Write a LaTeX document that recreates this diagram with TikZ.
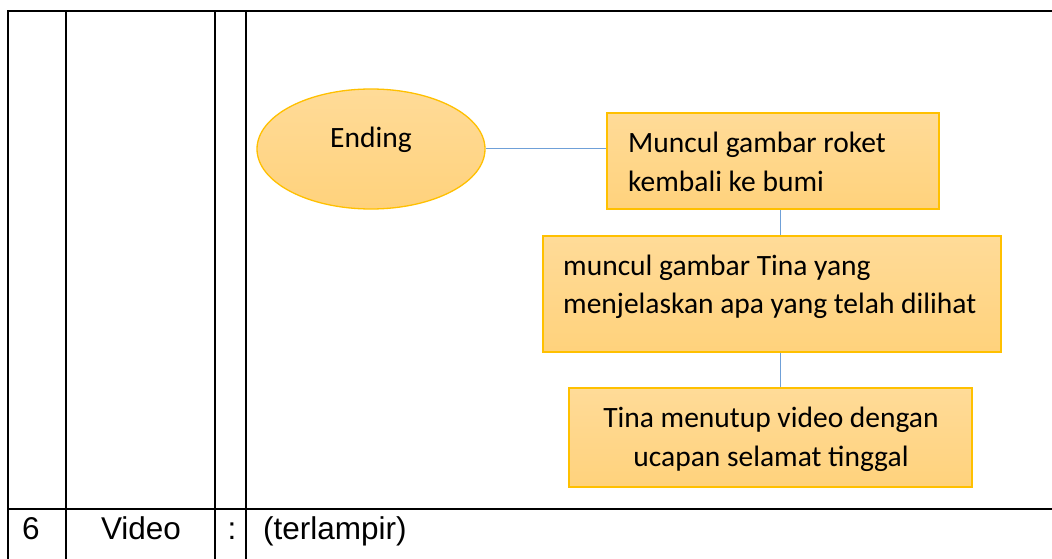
\documentclass[tikz,border=0pt]{standalone}
\usepackage{fontspec}
\setmainfont{Liberation Sans}
\newfontfamily\calib{Carlito}
\usetikzlibrary{shapes.geometric}
\definecolor{goldtop}{HTML}{FFDB98}
\definecolor{goldbot}{HTML}{FFD27C}
\definecolor{goldline}{HTML}{FFC000}
\definecolor{linkblue}{HTML}{6FA0D8}
\tikzset{
  tbl/.style={line width=2pt, black},
  goldshape/.style={draw=goldline, line width=1.3pt, top color=goldtop, bottom color=goldbot, inner sep=0pt},
  stepbox/.style={goldshape, rectangle},
  startoval/.style={goldshape, ellipse},
  boxtext/.style={font=\calib\fontsize{29.5}{38}\selectfont, inner sep=0pt, anchor=base west},
  boxtextc/.style={font=\calib\fontsize{29.5}{38}\selectfont, inner sep=0pt, anchor=base},
  celltext/.style={font=\fontsize{31.5}{38}\selectfont, inner sep=0pt, anchor=base},
  link/.style={draw=linkblue, line width=1pt},
}
\begin{document}
\begin{tikzpicture}[x=1pt,y=-1pt]
\useasboundingbox (0,0) rectangle (1052,559);
\fill[white] (0,0) rectangle (1052,559);

% table
\draw[tbl] (8,559) -- (8,11) -- (1052,11);
\draw[tbl] (66,11) -- (66,559);
\draw[tbl] (215,11) -- (215,559);
\draw[tbl] (246,11) -- (246,559);
\draw[tbl] (8,509) -- (1052,509);

\node[celltext] (num) at (31,539) {6};
\node[celltext] (vid) at (141,539) {Video};
\node[celltext] (colon) at (232,539) {:};
\node[celltext, anchor=base west] (lamp) at (263,539) {(terlampir)};

% flow shapes
\node[startoval, minimum width=228pt, minimum height=120pt] (end) at (371,149) {};
\node[boxtextc] (endt) at (371,148) {Ending};

\node[stepbox, minimum width=332pt, minimum height=96pt] (b1) at (773,161) {};
\node[boxtext] (b1a) at (628,153) {Muncul gambar roket};
\node[boxtext] (b1b) at (628,191) {kembali ke bumi};

\node[stepbox, minimum width=458pt, minimum height=116pt] (b2) at (772,294) {};
\node[boxtext] (b2a) at (563,275) {muncul gambar Tina yang};
\node[boxtext] (b2b) at (563,313) {menjelaskan apa yang telah dilihat};

\node[stepbox, minimum width=403pt, minimum height=99pt] (b3) at (770.5,437.5) {};
\node[boxtextc] (b3a) at (771,427) {Tina menutup video dengan};
\node[boxtextc] (b3b) at (771,466) {ucapan selamat tinggal};

% connectors
\coordinate (vx) at (780,0);
\draw[link] (end.east) -- (end.east -| b1.west);
\draw[link] (b1.south -| vx) -- (b2.north -| vx);
\draw[link] (b2.south -| vx) -- (b3.north -| vx);
\end{tikzpicture}
\end{document}
